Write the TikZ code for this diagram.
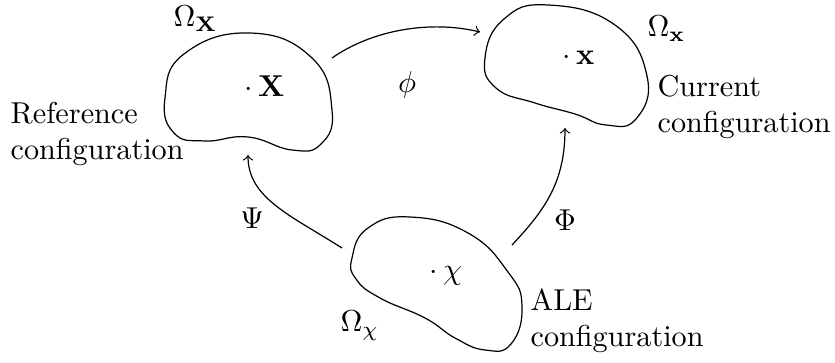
\documentclass[tikz,border=0pt]{standalone}
\usepackage{amsmath}
\begin{document}
\begin{tikzpicture}[x=0.331pt,y=-0.331pt,
  blob/.style={line width=0.4pt},
  conn/.style={->,line width=0.4pt},
  lbl/.style={inner sep=0pt,font=\fontsize{10}{11}\selectfont},
  multi/.style={lbl,align=left,anchor=base west}]
\useasboundingbox (0,0) rectangle (835,363);
% blobs
\draw[blob] plot[smooth cycle,tension=0.8] coordinates {(165,98) (184,54) (250,33) (312,58) (332,110) (321,144) (292,150) (248,137) (205,141) (174,133)};
\draw[blob] plot[smooth cycle,tension=0.8] coordinates {(485,58) (504,19) (548,5) (615,25) (647,76) (636,119) (606,125) (575,114) (535,103) (496,88)};
\draw[blob] plot[smooth cycle,tension=0.8] coordinates {(352,258) (368,228) (410,217) (468,233) (508,272) (522,306) (511,344) (485,350) (455,338) (425,318) (380,298) (356,279)};
% points
\node[lbl,anchor=base west] (pX) at (244,97) {$\cdot\,\mathbf{X}$};
\node[lbl,anchor=base west] (px) at (562,65) {$\cdot\,\mathbf{x}$};
\node[lbl,anchor=base west] (pchi) at (429,280) {$\cdot\,\chi$};
% domain labels
\node[lbl,anchor=base west] (OX) at (173,27) {$\Omega_{\mathbf{X}}$};
\node[lbl,anchor=base west] (Ox) at (647,37) {$\Omega_{\mathbf{x}}$};
\node[lbl,anchor=base west] (Ochi) at (340,332) {$\Omega_{\chi}$};
% configuration labels
\node[multi] (ref) at (10,160) {Reference\\[1pt]configuration};
\node[multi] (cur) at (657,133) {Current\\[1pt]configuration};
\node[multi] (ale) at (530,347) {ALE\\[1pt]configuration};
% map labels
\node[lbl] (phi) at (407,85) {$\phi$};
\node[lbl] (Psi) at (252,218) {$\Psi$};
\node[lbl] (Phi) at (565,220) {$\Phi$};
% connector ends
\coordinate (phiS) at (332,58);
\coordinate (phiE) at (480,32);
\coordinate (PsiS) at (342,248);
\coordinate (PsiE) at (248,155);
\coordinate (PhiS) at (512,245);
\coordinate (PhiE) at (565,128);
\draw[conn] (phiS) .. controls (372,30) and (430,20) .. (phiE);
\draw[conn] (PsiS) .. controls (290,215) and (248,198) .. (PsiE);
\draw[conn] (PhiS) .. controls (545,210) and (565,182) .. (PhiE);
\end{tikzpicture}
\end{document}
